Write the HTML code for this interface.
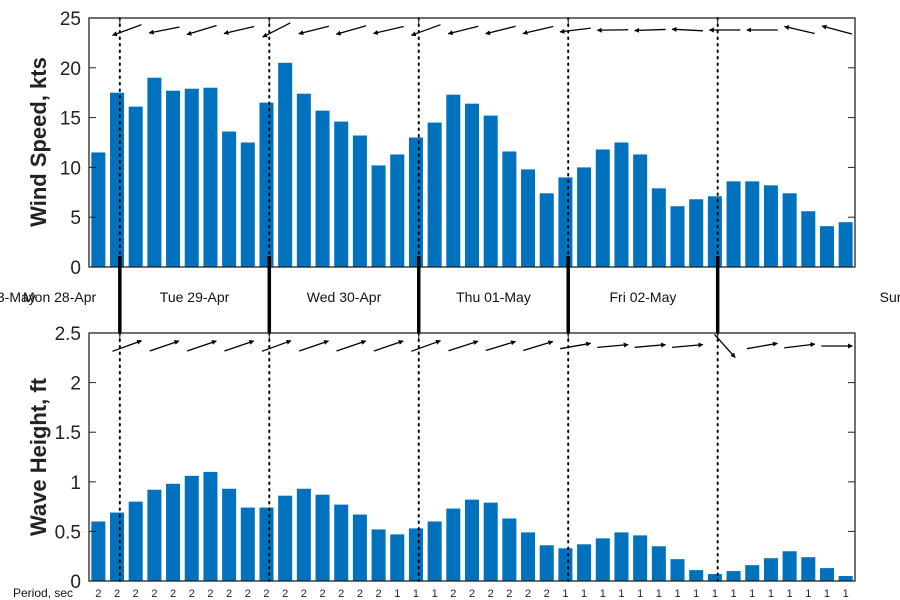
<!DOCTYPE html>
<html><head><meta charset="utf-8"><style>
html,body{margin:0;padding:0;background:#fff}
svg{display:block;font-family:"Liberation Sans","DejaVu Sans",sans-serif}
</style></head><body>
<svg id="chart" width="900" height="600" viewBox="0 0 900 600">
<defs>
<marker id="ah" viewBox="0 0 10 10" refX="9" refY="5" markerWidth="5" markerHeight="5" orient="auto" markerUnits="userSpaceOnUse">
<path d="M0,0 L10,5 L0,10 z" fill="#000"/>
</marker>
</defs>
<g id="top"></g>
<g id="bot"></g>
<g id="days"></g>
<g id="periods"></g>
<text x="46" y="142" transform="rotate(-90 46 142)" text-anchor="middle" font-size="22" font-weight="bold" fill="#222">Wind Speed, kts</text>
<text x="46" y="457" transform="rotate(-90 46 457)" text-anchor="middle" font-size="22" font-weight="bold" fill="#222">Wave Height, ft</text>
<text x="13" y="597" font-size="12" fill="#111">Period, sec</text>
</svg>
<script>
const windSpeed = [11.5,17.5,16.1,19,17.7,17.9,18,13.6,12.5,16.5,20.5,17.4,15.7,14.6,13.2,10.2,11.3,13,14.5,17.3,16.4,15.2,11.6,9.8,7.4,9,10,11.8,12.5,11.3,7.9,6.1,6.8,7.1,8.6,8.6,8.2,7.4,5.6,4.1,4.5];
const waveHeight = [0.6,0.69,0.8,0.92,0.98,1.06,1.1,0.93,0.74,0.74,0.86,0.93,0.87,0.77,0.67,0.52,0.47,0.53,0.6,0.73,0.82,0.79,0.63,0.49,0.36,0.33,0.37,0.43,0.49,0.46,0.35,0.22,0.11,0.07,0.1,0.16,0.23,0.3,0.24,0.13,0.05];
const wavePeriod = [2,2,2,2,2,2,2,2,2,2,2,2,2,2,2,2,1,1,1,2,2,2,2,2,2,1,1,1,1,1,1,1,1,1,1,1,1,1,1,1,1];
const windDir = [200,191,197,193,207,194,196,193,200,194,194,193,187,181,182,177,180,180,167,165];
const waveDir = [20,19,19,19,20,19,19,19,20,18,17,17,10,5,5,5,-48,10,7,0];
const dayLabels = ["Mon 28-Apr","Tue 29-Apr","Wed 30-Apr","Thu 01-May","Fri 02-May","Sat 03-May","Sun"];
const windTicks = [0,5,10,15,20,25];
const waveTicks = [0,0.5,1,1.5,2,2.5];
const waveTickLabels = ["0","0.5","1","1.5","2","2.5"];
const midnightIdx = [1.15,9.15,17.15,25.15,33.15]; // bar-index positions of day boundaries

const NS="http://www.w3.org/2000/svg";
const X0=89, X1=855, N=windSpeed.length, BW=(X1-X0)/N;
function xc(i){return X0+BW*(i+0.5);}
function mk(tag,attrs,parent){const e=document.createElementNS(NS,tag);for(const k in attrs)e.setAttribute(k,attrs[k]);parent.appendChild(e);return e;}

function panel(g,top,bottom,vmax,vals,ticks,tlabels,dirs,arrowY,prefix){
  const y=v=>bottom-(v/vmax)*(bottom-top);
  vals.forEach((v,i)=>{
    const r=mk('rect',{x:xc(i)-BW*0.375,y:y(v),width:BW*0.75,height:bottom-y(v),fill:'#0072BD'},g);
    
    
  });
  midnightIdx.forEach(m=>{
    const l=mk('line',{x1:xc(m),x2:xc(m),y1:top,y2:bottom,stroke:'#000','stroke-width':2,'stroke-dasharray':'1.5 5','stroke-linecap':'round'},g);
    
    
    mk('line',{x1:xc(m),x2:xc(m),y1:top,y2:top+6,stroke:'#222','stroke-width':1},g);
  });
  ticks.forEach((t,k)=>{
    mk('line',{x1:X0,x2:X0+7,y1:y(t),y2:y(t),stroke:'#222'},g);
    mk('line',{x1:X1-7,x2:X1,y1:y(t),y2:y(t),stroke:'#222'},g);
    const tx=mk('text',{x:X0-8,y:y(t)+7,'text-anchor':'end','font-size':19,fill:'#222'},g);
    tx.textContent=tlabels[k];
    
    
  });
  const box=mk('rect',{x:X0,y:top,width:X1-X0,height:bottom-top,fill:'none',stroke:'#222','stroke-width':1.3},g);
  
  
  dirs.forEach((d,k)=>{
    const cx=X0+BW*2*k+38, L=31, a=d*Math.PI/180;
    const dx=Math.cos(a)*L/2, dy=-Math.sin(a)*L/2;
    const ar=mk('line',{x1:cx-dx,y1:arrowY-dy,x2:cx+dx,y2:arrowY+dy,stroke:'#000','stroke-width':1.3,'marker-end':'url(#ah)'},g);
    
    
  });
}
panel(document.getElementById('top'),18,267,25,windSpeed,windTicks,windTicks.map(String),windDir,30,'wind');
panel(document.getElementById('bot'),333,581,2.5,waveHeight,waveTicks,waveTickLabels,waveDir,346,'wave');

const dg=document.getElementById('days');
midnightIdx.forEach(m=>{
  const l=mk('line',{x1:xc(m),x2:xc(m),y1:256,y2:333,stroke:'#000','stroke-width':3.5},dg);
  
  
});
const bounds=[23].concat(midnightIdx.map(xc));
dayLabels.forEach((s,i)=>{
  let x, anchor='middle';
  if(i===0){x=23;anchor='start';}
  else if(i===dayLabels.length-1){x=xc(midnightIdx[4])+162;anchor='start';}
  else x=(bounds[i]+bounds[i+1])/2;
  const t=mk('text',{x:x,y:302,'text-anchor':anchor,'font-size':14,fill:'#111'},dg);
  t.textContent=s;
  
  
});
const pg=document.getElementById('periods');
wavePeriod.forEach((p,i)=>{
  const t=mk('text',{x:xc(i),y:597,'text-anchor':'middle','font-size':11,fill:'#222'},pg);
  t.textContent=p;
  
  
});
</script>
</body></html>
